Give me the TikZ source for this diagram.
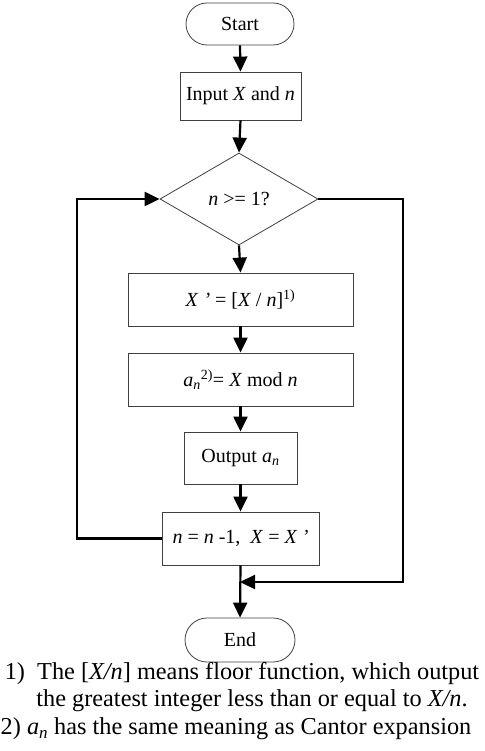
\documentclass[tikz,border=0pt]{standalone}
\usepackage{fontspec}
\setmainfont{Liberation Serif}
\usetikzlibrary{shapes.geometric,shapes.misc,arrows.meta}
\begin{document}
\begin{tikzpicture}[x=1pt,y=-1pt,
  box/.style={draw=black!75,line width=0.8pt,rectangle,inner sep=0pt,font=\fontsize{20}{23}\selectfont},
  term/.style={draw=black!75,line width=0.8pt,rounded rectangle,inner sep=0pt,font=\fontsize{20}{23}\selectfont},
  dec/.style={draw=black!75,line width=0.8pt,diamond,aspect=1.72,inner sep=0pt,font=\fontsize{20}{23}\selectfont},
  flow/.style={line width=2.2pt,-{Triangle[length=15pt,width=14pt]}},
  note/.style={font=\fontsize{24.3}{28}\selectfont,inner sep=0pt}]
\useasboundingbox (0,0) rectangle (484,751);
\node[term,minimum width=108pt,minimum height=42pt] (start) at (240,24) {Start};
\node[box,minimum width=121pt,minimum height=48pt] (input) at (240.5,96) {Input \textit{X} and \textit{n}};
\node[dec,minimum width=158pt,minimum height=92pt] (cond) at (239,199) {\textit{n} >= 1?};
\node[box,minimum width=225pt,minimum height=53pt] (xp) at (240.5,299.5) {\textit{X} \textit{’} = [\textit{X} / \textit{n}]\textsuperscript{1)}};
\node[box,minimum width=225pt,minimum height=53pt] (an) at (240.5,379.5) {\textit{a\textsubscript{n}}\textsuperscript{2)}= \textit{X} mod \textit{n}};
\node[box,minimum width=113pt,minimum height=52pt] (out) at (240.5,458) {Output \textit{a\textsubscript{n}}};
\node[box,minimum width=157pt,minimum height=53pt] (upd) at (240.5,538.5) {\textit{n} = \textit{n} -1,\ \ \textit{X} = \textit{X ’}};
\node[term,minimum width=110pt,minimum height=44pt] (end) at (240,640) {End};
\coordinate (lc) at (77,538.5);
\coordinate (rc) at (403,199);
\coordinate (jn) at (240,582);
\draw[flow] (start.south) -- (input.north);
\draw[flow] (input.south) -- (cond.north);
\draw[flow] (cond.south) -- (xp.north);
\draw[flow] (xp.south) -- (an.north);
\draw[flow] (an.south) -- (out.north);
\draw[flow] (out.south) -- (upd.north);
\draw[flow] (upd.west) -- (lc) |- (cond.west);
\draw[flow] (cond.east) -- (rc) |- (jn);
\draw[flow] (upd.south) -- (end.north);
\node[note] (n1) at (242,674) {1)\ \ The [\textit{X/n}] means floor function, which output};
\node[note] (n1b) at (252,701) {the greatest integer less than or equal to \textit{X/n}.};
\node[note,anchor=west] (n2) at (0.5,729) {2) \textit{a\textsubscript{n}} has the same meaning as Cantor expansion};
\end{tikzpicture}
\end{document}
